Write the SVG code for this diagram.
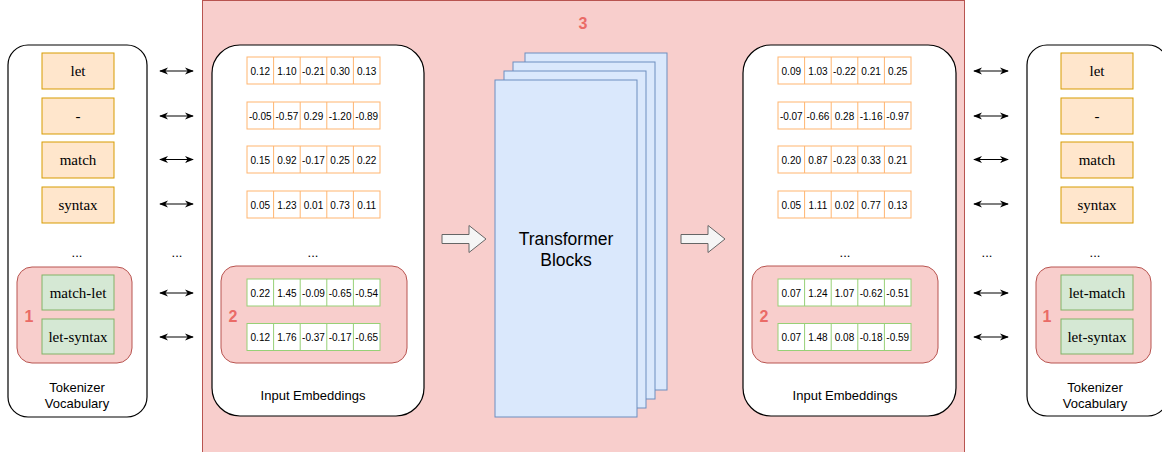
<svg xmlns="http://www.w3.org/2000/svg" width="1162" height="452" viewBox="0 0 1162 452">
<style>
.panel{fill:#ffffff;stroke:#000000;stroke-width:1.2}
.grp{fill:#f8cecc;stroke:#b85450;stroke-width:1}
.tok{fill:#ffe6cc;stroke:#d79b00;stroke-width:1}
.gtok{fill:#d5e8d4;stroke:#82b366;stroke-width:1}
.ttxt{font-family:"Liberation Serif","DejaVu Serif",serif;font-size:15px;fill:#000;text-anchor:middle}
.lbl{font-family:"Liberation Sans",Arial,sans-serif;font-size:13px;fill:#000;text-anchor:middle}
.num{font-family:"Liberation Sans",Arial,sans-serif;font-size:10px;fill:#000;text-anchor:middle}
.badge{font-family:"Liberation Sans",Arial,sans-serif;font-size:16px;font-weight:bold;fill:#ea6b66;text-anchor:middle}
.orow{fill:#ffffff;stroke:#ffb570;stroke-width:1}
.grow{fill:#ffffff;stroke:#97d077;stroke-width:1}
.odiv{stroke:#ffb570;stroke-width:1;fill:none}
.gdiv{stroke:#97d077;stroke-width:1;fill:none}
.blk{fill:#dae8fc;stroke:#6c8ebf;stroke-width:1}
.barrow{fill:#f5f5f5;stroke:#666666;stroke-width:1}
.conn{stroke:#000;stroke-width:1.2;fill:none;marker-start:url(#ah);marker-end:url(#ah)}
.dots{font-family:"Liberation Sans",Arial,sans-serif;font-size:13px;fill:#000;text-anchor:middle}
</style>
<defs>
<marker id="ah" viewBox="0 0 10 10" refX="9" refY="5" markerWidth="9" markerHeight="9" orient="auto-start-reverse" markerUnits="userSpaceOnUse">
<path d="M0,1 L10,5 L0,9 L3,5 Z" fill="#000"/>
</marker>
</defs>

<g id="region3">
<rect x="202.5" y="0.5" width="762" height="460" fill="#f8cecc" stroke="#b85450" stroke-width="1"/>
<text class="badge" x="583" y="29">3</text>
</g>

<g id="vocab-left">
<rect class="panel" x="8" y="45" width="139" height="372" rx="20" ry="20"/>
<rect class="tok" x="42" y="53" width="72" height="36"/><text class="ttxt" x="78" y="76">let</text>
<rect class="tok" x="42" y="98" width="72" height="36"/><text class="ttxt" x="78" y="121">-</text>
<rect class="tok" x="42" y="142" width="72" height="36"/><text class="ttxt" x="78" y="165">match</text>
<rect class="tok" x="42" y="187" width="72" height="36"/><text class="ttxt" x="78" y="210">syntax</text>
<text class="dots" x="77" y="257">...</text>
<g id="group1-left">
<rect class="grp" x="17" y="267" width="115" height="96" rx="15" ry="15"/>
<text class="badge" x="29" y="322">1</text>
<rect class="gtok" x="42" y="275" width="72" height="35"/><text class="ttxt" x="78" y="297.5">match-let</text>
<rect class="gtok" x="42" y="319" width="72" height="35"/><text class="ttxt" x="78" y="341.5">let-syntax</text>
</g>
<text class="lbl" x="77" y="392">Tokenizer</text>
<text class="lbl" x="77" y="408">Vocabulary</text>
</g>

<g id="emb-left">
<rect class="panel" x="212" y="45" width="212" height="371" rx="28" ry="28"/>
<rect class="orow" x="247" y="57" width="133" height="27"/><path class="odiv" d="M273.6,57V84M300.2,57V84M326.8,57V84M353.4,57V84"/>
<text class="num" x="260.3" y="74.5">0.12</text><text class="num" x="286.9" y="74.5">1.10</text><text class="num" x="313.5" y="74.5">-0.21</text><text class="num" x="340.1" y="74.5">0.30</text><text class="num" x="366.7" y="74.5">0.13</text>
<rect class="orow" x="247" y="102" width="133" height="27"/><path class="odiv" d="M273.6,102V129M300.2,102V129M326.8,102V129M353.4,102V129"/>
<text class="num" x="260.3" y="119.5">-0.05</text><text class="num" x="286.9" y="119.5">-0.57</text><text class="num" x="313.5" y="119.5">0.29</text><text class="num" x="340.1" y="119.5">-1.20</text><text class="num" x="366.7" y="119.5">-0.89</text>
<rect class="orow" x="247" y="146" width="133" height="27"/><path class="odiv" d="M273.6,146V173M300.2,146V173M326.8,146V173M353.4,146V173"/>
<text class="num" x="260.3" y="163.5">0.15</text><text class="num" x="286.9" y="163.5">0.92</text><text class="num" x="313.5" y="163.5">-0.17</text><text class="num" x="340.1" y="163.5">0.25</text><text class="num" x="366.7" y="163.5">0.22</text>
<rect class="orow" x="247" y="191" width="133" height="27"/><path class="odiv" d="M273.6,191V218M300.2,191V218M326.8,191V218M353.4,191V218"/>
<text class="num" x="260.3" y="208.5">0.05</text><text class="num" x="286.9" y="208.5">1.23</text><text class="num" x="313.5" y="208.5">0.01</text><text class="num" x="340.1" y="208.5">0.73</text><text class="num" x="366.7" y="208.5">0.11</text>
<text class="dots" x="313" y="257">...</text>
<g id="group2-left">
<rect class="grp" x="221" y="266" width="186" height="97" rx="15" ry="15"/>
<text class="badge" x="233" y="322">2</text>
<rect class="grow" x="247" y="279" width="133" height="27"/><path class="gdiv" d="M273.6,279V306M300.2,279V306M326.8,279V306M353.4,279V306"/>
<text class="num" x="260.3" y="296.5">0.22</text><text class="num" x="286.9" y="296.5">1.45</text><text class="num" x="313.5" y="296.5">-0.09</text><text class="num" x="340.1" y="296.5">-0.65</text><text class="num" x="366.7" y="296.5">-0.54</text>
<rect class="grow" x="247" y="323.5" width="133" height="27"/><path class="gdiv" d="M273.6,323.5V350.5M300.2,323.5V350.5M326.8,323.5V350.5M353.4,323.5V350.5"/>
<text class="num" x="260.3" y="341">0.12</text><text class="num" x="286.9" y="341">1.76</text><text class="num" x="313.5" y="341">-0.37</text><text class="num" x="340.1" y="341">-0.17</text><text class="num" x="366.7" y="341">-0.65</text>
</g>
<text class="lbl" x="313" y="400">Input Embeddings</text>
</g>

<g id="transformer">
<rect class="blk" x="525" y="53" width="142" height="337"/>
<rect class="blk" x="513" y="62" width="142" height="337"/>
<rect class="blk" x="504" y="71" width="142" height="337"/>
<rect class="blk" x="495" y="80" width="142" height="337"/>
<text class="lbl" style="font-size:17.5px" x="566" y="245">Transformer</text>
<text class="lbl" style="font-size:17.5px" x="566" y="266">Blocks</text>
</g>

<g id="emb-right">
<rect class="panel" x="743" y="45" width="213" height="371" rx="28" ry="28"/>
<rect class="orow" x="778" y="57" width="133" height="27"/><path class="odiv" d="M804.6,57V84M831.2,57V84M857.8,57V84M884.4,57V84"/>
<text class="num" x="791.3" y="74.5">0.09</text><text class="num" x="817.9" y="74.5">1.03</text><text class="num" x="844.5" y="74.5">-0.22</text><text class="num" x="871.1" y="74.5">0.21</text><text class="num" x="897.7" y="74.5">0.25</text>
<rect class="orow" x="778" y="102" width="133" height="27"/><path class="odiv" d="M804.6,102V129M831.2,102V129M857.8,102V129M884.4,102V129"/>
<text class="num" x="791.3" y="119.5">-0.07</text><text class="num" x="817.9" y="119.5">-0.66</text><text class="num" x="844.5" y="119.5">0.28</text><text class="num" x="871.1" y="119.5">-1.16</text><text class="num" x="897.7" y="119.5">-0.97</text>
<rect class="orow" x="778" y="146" width="133" height="27"/><path class="odiv" d="M804.6,146V173M831.2,146V173M857.8,146V173M884.4,146V173"/>
<text class="num" x="791.3" y="163.5">0.20</text><text class="num" x="817.9" y="163.5">0.87</text><text class="num" x="844.5" y="163.5">-0.23</text><text class="num" x="871.1" y="163.5">0.33</text><text class="num" x="897.7" y="163.5">0.21</text>
<rect class="orow" x="778" y="191" width="133" height="27"/><path class="odiv" d="M804.6,191V218M831.2,191V218M857.8,191V218M884.4,191V218"/>
<text class="num" x="791.3" y="208.5">0.05</text><text class="num" x="817.9" y="208.5">1.11</text><text class="num" x="844.5" y="208.5">0.02</text><text class="num" x="871.1" y="208.5">0.77</text><text class="num" x="897.7" y="208.5">0.13</text>
<text class="dots" x="845" y="257">...</text>
<g id="group2-right">
<rect class="grp" x="752" y="266" width="186" height="97" rx="15" ry="15"/>
<text class="badge" x="764" y="322">2</text>
<rect class="grow" x="778" y="279" width="133" height="27"/><path class="gdiv" d="M804.6,279V306M831.2,279V306M857.8,279V306M884.4,279V306"/>
<text class="num" x="791.3" y="296.5">0.07</text><text class="num" x="817.9" y="296.5">1.24</text><text class="num" x="844.5" y="296.5">1.07</text><text class="num" x="871.1" y="296.5">-0.62</text><text class="num" x="897.7" y="296.5">-0.51</text>
<rect class="grow" x="778" y="323.5" width="133" height="27"/><path class="gdiv" d="M804.6,323.5V350.5M831.2,323.5V350.5M857.8,323.5V350.5M884.4,323.5V350.5"/>
<text class="num" x="791.3" y="341">0.07</text><text class="num" x="817.9" y="341">1.48</text><text class="num" x="844.5" y="341">0.08</text><text class="num" x="871.1" y="341">-0.18</text><text class="num" x="897.7" y="341">-0.59</text>
</g>
<text class="lbl" x="845" y="400">Input Embeddings</text>
</g>

<g id="vocab-right">
<rect class="panel" x="1027" y="45" width="141" height="371" rx="20" ry="20"/>
<rect class="tok" x="1061" y="53" width="72" height="36"/><text class="ttxt" x="1097" y="76">let</text>
<rect class="tok" x="1061" y="98" width="72" height="36"/><text class="ttxt" x="1097" y="121">-</text>
<rect class="tok" x="1061" y="142" width="72" height="36"/><text class="ttxt" x="1097" y="165">match</text>
<rect class="tok" x="1061" y="187" width="72" height="36"/><text class="ttxt" x="1097" y="210">syntax</text>
<text class="dots" x="1095" y="257">...</text>
<g id="group1-right">
<rect class="grp" x="1036" y="267" width="115" height="96" rx="15" ry="15"/>
<text class="badge" x="1047" y="322">1</text>
<rect class="gtok" x="1061" y="275" width="72" height="35"/><text class="ttxt" x="1097" y="297.5">let-match</text>
<rect class="gtok" x="1061" y="319" width="72" height="35"/><text class="ttxt" x="1097" y="341.5">let-syntax</text>
</g>
<text class="lbl" x="1095" y="392">Tokenizer</text>
<text class="lbl" x="1095" y="408">Vocabulary</text>
</g>

<g id="connectors">
<path class="conn" d="M160,71H193"/>
<path class="conn" d="M160,116H193"/>
<path class="conn" d="M160,159.5H193"/>
<path class="conn" d="M160,204H193"/>
<path class="conn" d="M160,293H193"/>
<path class="conn" d="M160,337H193"/>
<text class="dots" x="177" y="257">...</text>
<path class="conn" d="M974,71H1008"/>
<path class="conn" d="M974,116H1008"/>
<path class="conn" d="M974,159.5H1008"/>
<path class="conn" d="M974,204H1008"/>
<path class="conn" d="M974,293H1008"/>
<path class="conn" d="M974,337H1008"/>
<text class="dots" x="987" y="257">...</text>
<path class="barrow" d="M442,234.5H469V225.5L486,239L469,252.5V243.5H442Z"/>
<path class="barrow" d="M681,234.5H708V225.5L725,239L708,252.5V243.5H681Z"/>
</g>
</svg>
